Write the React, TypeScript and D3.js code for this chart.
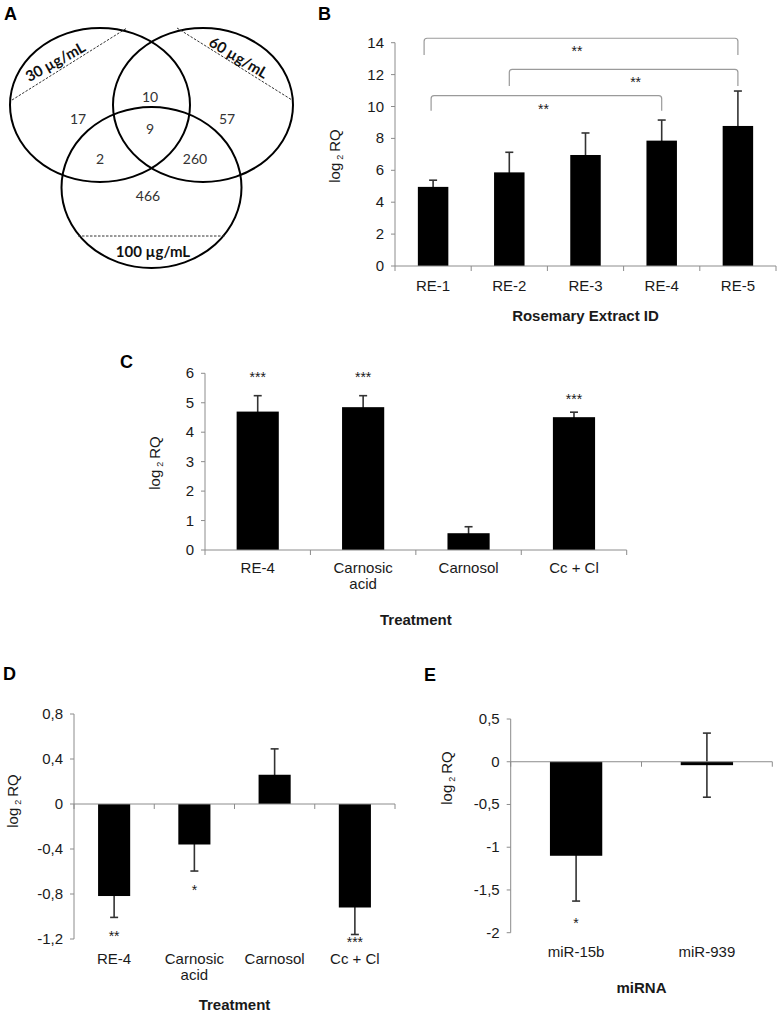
import React from 'react';
import * as d3 from 'd3';

// ---------- DATA ----------
// Panel A (Venn)
const vennSetLabels = ['30 µg/mL', '60 µg/mL', '100 µg/mL'];
const vennRegionNames = ['30 only', '30∩60', '60 only', '30∩60∩100', '30∩100', '60∩100', '100 only'];
const vennCounts = [17, 10, 57, 9, 2, 260, 466];

// Panel B
const bCategories = ['RE-1', 'RE-2', 'RE-3', 'RE-4', 'RE-5'];
const bValues = [4.96, 5.87, 6.96, 7.86, 8.78];
const bErrors = [0.42, 1.26, 1.38, 1.29, 2.19];
const bTicks = [0, 2, 4, 6, 8, 10, 12, 14];
const bBracketFrom = [0, 1, 0];
const bBracketTo = [4, 4, 3];
const bBracketTop = [14.28, 12.33, 10.68];
const bBracketLeg = [13.23, 11.29, 9.74];
const bBracketLabels = ['**', '**', '**'];

// Panel C
const cCategories = ['RE-4', 'Carnosic\nacid', 'Carnosol', 'Cc + Cl'];
const cValues = [4.70, 4.85, 0.57, 4.51];
const cErrors = [0.54, 0.39, 0.22, 0.17];
const cStars = ['***', '***', '', '***'];
const cStarLevels = [5.96, 5.97, 0, 5.24];
const cTicks = [0, 1, 2, 3, 4, 5, 6];

// Panel D
const dCategories = ['RE-4', 'Carnosic\nacid', 'Carnosol', 'Cc + Cl'];
const dValues = [-0.818, -0.36, 0.26, -0.92];
const dErrors = [0.19, 0.236, 0.23, 0.24];
const dStars = ['**', '*', '', '***'];
const dStarLevels = [-1.151, -0.738, 0, -1.2];
const dTicks = [-1.2, -0.8, -0.4, 0, 0.4, 0.8];

// Panel E
const eCategories = ['miR-15b', 'miR-939'];
const eValues = [-1.10, -0.04];
const eErrors = [0.53, 0.375];
const eStars = ['*', ''];
const eStarLevels = [-1.853, 0];
const eTicks = [-2, -1.5, -1, -0.5, 0, 0.5];

// ---------- STYLE ----------
const FONT = '"Liberation Sans", Arial, Helvetica, sans-serif';
const VFONT = 'Lato, "Open Sans", sans-serif';
const TXT = '#1a1a1a';
const AXIS = '#8c8c8c';
const ERR = '#333';

const comma = (v: number) => String(Math.round(v * 10) / 10).replace('.', ',');
const plain = (v: number) => String(v);

function YTitle({ x, y }: { x: number; y: number }) {
  return (
    <text transform={`translate(${x + 5},${y}) rotate(-90)`} textAnchor="middle" fontFamily={FONT} fontSize={15} fill={TXT}>
      <tspan>log</tspan>
      <tspan fontSize={9} dx={3} dy={3}>2</tspan>
      <tspan dx={3} dy={-3}>RQ</tspan>
    </text>
  );
}

type PanelProps = {
  cats: string[];
  values: number[];
  errors: number[];
  stars?: string[];
  starLevels?: number[];
  ticks: number[];
  fmt: (v: number) => string;
  x0: number;
  x1: number;
  yDomain: [number, number];
  yRange: [number, number];
  letter: string;
  letterPos: [number, number];
  title: string;
  titleY: number;
  yTitle: [number, number];
  labelGap: number;
  children?: React.ReactNode;
};

function BarPanel(p: PanelProps) {
  const x = d3.scaleBand<string>().domain(p.cats).range([p.x0, p.x1]).paddingInner(0.6).paddingOuter(0.3);
  const step = (p.x1 - p.x0) / p.cats.length;
  const y = d3.scaleLinear().domain(p.yDomain).range(p.yRange);
  const y0 = y(0);
  const bottom = p.yRange[0];
  const bounds = d3.range(p.cats.length + 1).map((i) => p.x0 + i * step);
  const cap = 4;
  return (
    <g>
      <text x={p.letterPos[0]} y={p.letterPos[1]} fontFamily={FONT} fontWeight="bold" fontSize={18} fill="#000">{p.letter}</text>
      {/* y axis */}
      <line x1={p.x0} x2={p.x0} y1={p.yRange[1]} y2={p.yRange[0]} stroke={AXIS} strokeWidth={1} />
      {p.ticks.map((t) => (
        <g key={t}>
          <line x1={p.x0 - 4} x2={p.x0} y1={y(t)} y2={y(t)} stroke={AXIS} strokeWidth={1} />
          <text x={p.x0 - 11} y={y(t) + 5} textAnchor="end" fontFamily={FONT} fontSize={15} fill={TXT}>{p.fmt(t)}</text>
        </g>
      ))}
      {/* error bars (behind bars) */}
      {p.cats.map((c, i) => {
        const cx = (x(c) as number) + x.bandwidth() / 2;
        const hi = y(p.values[i] + p.errors[i]);
        const lo = y(p.values[i] - p.errors[i]);
        return (
          <g key={'e' + c} stroke={ERR} strokeWidth={1.6}>
            <line x1={cx} x2={cx} y1={hi} y2={lo} />
            <line x1={cx - cap} x2={cx + cap} y1={hi} y2={hi} />
            <line x1={cx - cap} x2={cx + cap} y1={lo} y2={lo} />
          </g>
        );
      })}
      {/* bars */}
      {p.cats.map((c, i) => {
        const v = p.values[i];
        const top = Math.min(y(v), y0);
        const h = Math.abs(y(v) - y0);
        return <rect key={'b' + c} x={x(c)} y={top} width={x.bandwidth()} height={h} fill="#000" />;
      })}
      {/* x axis */}
      <line x1={p.x0} x2={p.x1} y1={y0} y2={y0} stroke={AXIS} strokeWidth={1} />
      {bounds.map((bx, i) => (
        <line key={'xt' + i} x1={bx} x2={bx} y1={y0} y2={y0 + 5} stroke={AXIS} strokeWidth={1} />
      ))}
      {/* stars */}
      {p.stars && p.starLevels && p.cats.map((c, i) => p.stars![i] ? (
        <text key={'s' + c} x={(x(c) as number) + x.bandwidth() / 2} y={y(p.starLevels![i]) + 8} textAnchor="middle" fontFamily={FONT} fontSize={14} fill={TXT}>{p.stars![i]}</text>
      ) : null)}
      {/* category labels */}
      {p.cats.map((c) => (
        <text key={'l' + c} x={(x(c) as number) + x.bandwidth() / 2} y={bottom + p.labelGap} textAnchor="middle" fontFamily={FONT} fontSize={15} fill={TXT}>
          {c.split('\n').map((line, k) => (
            <tspan key={k} x={(x(c) as number) + x.bandwidth() / 2} dy={k === 0 ? 0 : 16}>{line}</tspan>
          ))}
        </text>
      ))}
      <text x={(p.x0 + p.x1) / 2} y={p.titleY} textAnchor="middle" fontFamily={FONT} fontWeight="bold" fontSize={15} fill={TXT}>{p.title}</text>
      <YTitle x={p.yTitle[0]} y={p.yTitle[1]} />
      {p.children}
    </g>
  );
}

function Brackets() {
  const x0 = 395, x1 = 776;
  const x = d3.scaleBand<string>().domain(bCategories).range([x0, x1]).paddingInner(0.6).paddingOuter(0.3);
  const y = d3.scaleLinear().domain([0, 14]).range([266, 42.7]);
  const cxOf = (i: number) => (x(bCategories[i]) as number) + x.bandwidth() / 2;
  const r = 3;
  const leftShift = [-9, 0, -2];
  const starShift = [-4, 12, -3];
  return (
    <g>
      {bBracketFrom.map((f, i) => {
        const a = cxOf(f) + leftShift[i];
        const b = cxOf(bBracketTo[i]);
        const t = y(bBracketTop[i]);
        const l = y(bBracketLeg[i]);
        const d = `M${a},${l} L${a},${t + r} Q${a},${t} ${a + r},${t} L${b - r},${t} Q${b},${t} ${b},${t + r} L${b},${l}`;
        return (
          <g key={i}>
            <path d={d} fill="none" stroke="#9a9a9a" strokeWidth={1.2} />
            <text x={(a + b) / 2 + starShift[i]} y={t + 18} textAnchor="middle" fontFamily={FONT} fontSize={14} fill={TXT}>{bBracketLabels[i]}</text>
          </g>
        );
      })}
    </g>
  );
}

function Venn() {
  const ellipses = [
    { cx: 100, cy: 105, rx: 90, ry: 77 },
    { cx: 203, cy: 105, rx: 90, ry: 77 },
    { cx: 151.5, cy: 187.5, rx: 90, ry: 80.5 },
  ];
  const regionPos: [number, number][] = [
    [78, 118], [150, 96], [227, 118], [150, 128], [100, 158], [195, 158], [148, 195],
  ];
  const dashes: [number, number, number, number][] = [
    [12, 100, 127, 28],
    [177, 28, 292, 100],
    [78, 236, 225, 236],
  ];
  const setLabelPos: [number, number, number][] = [
    [55, 61, -29],
    [239, 57, 31],
    [153, 251, 0],
  ];
  return (
    <g>
      <text x={4} y={20} fontFamily={FONT} fontWeight="bold" fontSize={18} fill="#000">A</text>
      {ellipses.map((e, i) => (
        <ellipse key={i} cx={e.cx} cy={e.cy} rx={e.rx} ry={e.ry} fill="none" stroke="#000" strokeWidth={2} />
      ))}
      {dashes.map((d, i) => (
        <line key={i} x1={d[0]} y1={d[1]} x2={d[2]} y2={d[3]} stroke="#333" strokeWidth={1} strokeDasharray="2.5,1.5" />
      ))}
      {vennSetLabels.map((s, i) => (
        <text key={s} transform={`translate(${setLabelPos[i][0]},${setLabelPos[i][1]}) rotate(${setLabelPos[i][2]})`} textAnchor="middle" dominantBaseline="central" fontFamily={VFONT} fontWeight="bold" fontSize={15} fill="#111">{s}</text>
      ))}
      {vennCounts.map((c, i) => (
        <text key={vennRegionNames[i]} x={regionPos[i][0]} y={regionPos[i][1]} textAnchor="middle" dominantBaseline="central" fontFamily={VFONT} fontSize={14} fill="#333">{c}</text>
      ))}
    </g>
  );
}

export default function App() {
  return (
    <svg width={780} height={1014} style={{ position: 'absolute', left: 0, top: 0, background: '#fff' }}>
      <rect x={0} y={0} width={780} height={1014} fill="#fff" />
      <Venn />
      <BarPanel
        cats={bCategories} values={bValues} errors={bErrors} ticks={bTicks} fmt={plain}
        x0={395} x1={776} yDomain={[0, 14]} yRange={[266, 42.7]}
        letter="B" letterPos={[318, 20]} title="Rosemary Extract ID" titleY={321}
        yTitle={[335, 156]} labelGap={25}
      >
        <Brackets />
      </BarPanel>
      <BarPanel
        cats={cCategories} values={cValues} errors={cErrors} stars={cStars} starLevels={cStarLevels}
        ticks={cTicks} fmt={plain}
        x0={205} x1={626.7} yDomain={[0, 6]} yRange={[550, 373.3]}
        letter="C" letterPos={[120, 368]} title="Treatment" titleY={625}
        yTitle={[155, 463]} labelGap={23}
      />
      <BarPanel
        cats={dCategories} values={dValues} errors={dErrors} stars={dStars} starLevels={dStarLevels}
        ticks={dTicks} fmt={comma}
        x0={74} x1={395} yDomain={[-1.2, 0.8]} yRange={[939, 714]}
        letter="D" letterPos={[3, 680]} title="Treatment" titleY={1010}
        yTitle={[13, 801]} labelGap={25}
      />
      <BarPanel
        cats={eCategories} values={eValues} errors={eErrors} stars={eStars} starLevels={eStarLevels}
        ticks={eTicks} fmt={comma}
        x0={510.7} x1={772.3} yDomain={[-2, 0.5]} yRange={[932.7, 719]}
        letter="E" letterPos={[424, 681]} title="miRNA" titleY={993}
        yTitle={[447, 778]} labelGap={24}
      />
    </svg>
  );
}
